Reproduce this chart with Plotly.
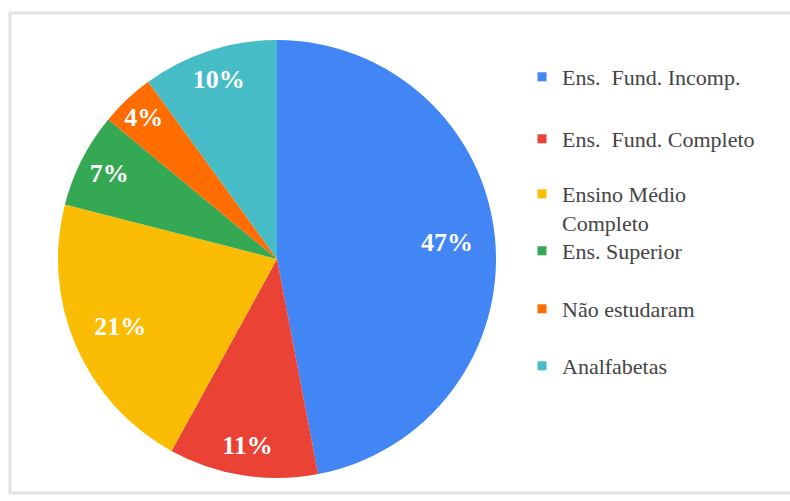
import plotly.graph_objects as go

# Escolaridade dos participantes (%)
categorias = ["Ens.\u00a0 Fund. Incomp.", "Ens.\u00a0 Fund. Completo", "Ensino Médio<br>Completo",
              "Ens. Superior", "Não estudaram", "Analfabetas"]
percentuais = [47, 11, 21, 7, 4, 10]
cores = ["#4285F4", "#EA4335", "#FBBC04", "#34A853", "#FF6D01", "#46BDC6"]

# vertical centre (px from top) of each legend entry's first line
legenda_y = [78, 140, 195, 252, 310, 367]

W, H = 790, 501
cx, cy, r = 277, 259, 219  # pie centre / radius in pixels
dom_x = [(cx - r) / W, (cx + r) / W]
dom_y = [(H - cy - r) / H, (H - cy + r) / H]

SERIF = "Liberation Serif, Times New Roman, serif"
label_font = dict(family=SERIF, size=26, color="white")

fig = go.Figure()

# filled pie
fig.add_trace(go.Pie(
    values=percentuais, labels=categorias, sort=False, direction="clockwise",
    rotation=0, marker=dict(colors=cores, line=dict(width=0)),
    textinfo="none", showlegend=False, domain=dict(x=dom_x, y=dom_y),
    hoverinfo="label+percent",
))

# percentage labels: the two large slices sit a bit further in,
# the smaller ones close to the rim (transparent rings carry the text)
grandes = [v >= 20 for v in percentuais]
for hole, escolha in ((0.56, True), (0.72, False)):
    fig.add_trace(go.Pie(
        values=percentuais, labels=categorias, sort=False, direction="clockwise",
        rotation=0, hole=hole,
        marker=dict(colors=["rgba(0,0,0,0)"] * len(cores), line=dict(width=0)),
        texttemplate=[f"<b>{v}%</b>" if g == escolha else "" for v, g in zip(percentuais, grandes)],
        textposition="inside", insidetextorientation="horizontal",
        insidetextfont=label_font,
        showlegend=False, domain=dict(x=dom_x, y=dom_y), hoverinfo="skip",
    ))

# legend: one box per entry so each can sit at its own height
legendas = {}
for i, (nome, cor, yc) in enumerate(zip(categorias, cores, legenda_y)):
    chave = "legend" if i == 0 else f"legend{i + 1}"
    fig.add_trace(go.Scatter(
        x=[None], y=[None], mode="markers", name=nome, legend=chave,
        marker=dict(symbol="square", size=9, color=cor),
    ))
    legendas[chave] = dict(
        x=522 / W, y=1 - (yc - 22) / H, xanchor="left", yanchor="top",
        font=dict(family=SERIF, size=22, color="#444444"),
        valign="top", bgcolor="rgba(0,0,0,0)",
    )

fig.update_layout(
    width=W, height=H, margin=dict(l=0, r=0, t=0, b=0),
    paper_bgcolor="white", plot_bgcolor="white",
    font=dict(family=SERIF, color="#444444"),
    xaxis=dict(visible=False), yaxis=dict(visible=False),
    shapes=[dict(type="rect", xref="paper", yref="paper",
                 x0=10 / W, x1=1.01, y0=1 - 493 / H, y1=1 - 13 / H,
                 line=dict(color="#e2e2e2", width=3))],
    **legendas,
)

fig.write_html("out.html")
